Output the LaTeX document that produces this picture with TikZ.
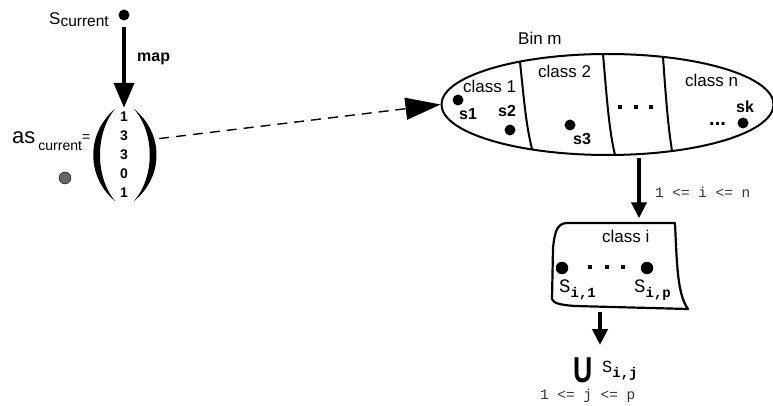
\documentclass[tikz,border=0pt]{standalone}
\usepackage{fontspec}
\setmainfont{Liberation Sans}
\setmonofont{Liberation Mono}
\usetikzlibrary{arrows.meta,shapes.geometric,positioning}

\begin{document}
\begin{tikzpicture}
[
x=1pt, y=-1pt,
dot/.style={circle, fill=black, inner sep=0pt, minimum size=11pt},
graydot/.style={circle, draw=black, fill=black!60, inner sep=0pt, minimum size=12pt},
lbl/.style={inner sep=0pt, anchor=base west, font=\fontsize{17}{20}\selectfont},
sname/.style={inner sep=0pt, anchor=base west, font=\fontsize{16}{19}\selectfont\bfseries},
bound/.style={inner sep=0pt, anchor=base west, text=black!80, font=\fontsize{14.4}{17}\selectfont\ttfamily},
elem/.style={inner sep=0pt, anchor=base west, font=\fontsize{19}{21}\selectfont\ttfamily},
square/.style={rectangle, fill=black, inner sep=0pt, minimum size=4pt},
bin/.style={ellipse, draw=black, line width=2pt, minimum width=332pt, minimum height=101pt, inner sep=0pt},
bigarrow/.style={line width=4pt, -{Triangle[length=25pt,width=20pt]}},
arrow/.style={line width=4pt, -{Triangle[length=16pt,width=15pt]}},
dasharrow/.style={line width=1.4pt, dash pattern=on 10pt off 7pt, -{Triangle[length=35pt,width=22pt]}}
]
\useasboundingbox (0,0) rectangle (773,406);

%Nodes
\node[dot]          (scur)      at (124,15)     {};
\node[lbl]          (scurlbl)   at (49,25)      {S\raisebox{-2pt}{\fontsize{15.5}{18}\selectfont current}};
\node[inner sep=0pt, minimum width=70pt, minimum height=94pt, align=center,
      font=\fontsize{14}{19}\selectfont\bfseries]
                    (vec)       at (124,155)    {1\\3\\3\\0\\1};
\node[lbl, font=\fontsize{22}{24}\selectfont]
                    (aslbl)     at (12,144)     {as\kern3pt\raisebox{-7pt}{\fontsize{14}{16}\selectfont current}\raisebox{2pt}{\fontsize{14}{16}\selectfont =}};
\node[graydot]      (gdot)      at (65,178)     {};
\node[sname]        (map)       at (137,61.5)   {map};

% bin with its classes
\node[bin]          (bin)       at (607.5,104.5) {};
\node[lbl]          (binlbl)    at (518,45)     {Bin m};
\node[lbl]          (c1)        at (463,93)     {class 1};
\node[lbl]          (c2)        at (538,78)     {class 2};
\node[lbl]          (cn)        at (685,87)     {class n};
\node[dot]          (s1)        at (458,100)    {};
\node[dot]          (s2)        at (510,130)    {};
\node[dot]          (s3)        at (570,125)    {};
\node[dot]          (sk)        at (743,123)    {};
\node[sname]        (s1lbl)     at (459,120)    {s1};
\node[sname]        (s2lbl)     at (498,117)    {s2};
\node[sname]        (s3lbl)     at (573,145)    {s3};
\node[sname]        (sklbl)     at (736,113)    {sk};
\node[sname, font=\fontsize{20}{22}\selectfont\bfseries]
                    (skdots)    at (709,126)    {...};
\foreach \x in {620,635.5,651}
  \node[square] at (\x,107) {};

% one class taken out
\node[inner sep=0pt, minimum width=136pt, minimum height=87pt]
                    (classi)    at (620,266)    {};
\node[lbl]          (cilbl)     at (602,242)    {class i};
\node[dot, minimum size=12.5pt] (si1) at (562,268) {};
\node[dot, minimum size=12.5pt] (sip) at (647,268) {};
\foreach \x in {590,606.5,623}
  \node[square] at (\x,267) {};
\node[elem]         (si1lbl)    at (559,292)    {S\raisebox{-5pt}{\fontsize{14}{16}\selectfont\bfseries i,1}};
\node[elem]         (siplbl)    at (634,292)    {S\raisebox{-5pt}{\fontsize{14}{16}\selectfont\bfseries i,p}};
\node[bound]        (irange)    at (655,197.5)  {1 <= i <= n};

% union below
\node[inner sep=0pt, anchor=base west, font=\fontsize{36}{38}\selectfont\bfseries]
                    (union)     at (573,382)    {\scalebox{0.74}[1]{U}};
\node[elem, font=\fontsize{17}{19}\selectfont\ttfamily]
                    (unionS)    at (602,372)    {S\raisebox{-5pt}{\fontsize{14}{16}\selectfont\bfseries i,j}};
\node[bound]        (jrange)    at (540,399.5)  {1 <= j <= p};

%Lines
% big round brackets of the vector
\fill (115,109) .. controls (86,133) and (86,177) .. (115,201)
      .. controls (95,177) and (95,133) .. (115,109);
\fill (134,109) .. controls (164,133) and (164,177) .. (134,201)
      .. controls (155,177) and (155,133) .. (134,109);

% class borders inside the bin
\draw[line width=2pt] (520,62) .. controls (524,100) and (526,125) .. (532,149);
\draw[line width=2pt] (603,54) .. controls (607,100) and (609,130) .. (615,155);
\draw[line width=2pt] (663,57) .. controls (666,100) and (668,125) .. (672,151);

% curled sheet for class i
\draw[line width=2.2pt, line join=round]
  (552,299) -- (553,248) .. controls (555,229) and (558,223) .. (568,223)
  -- (675,223) .. controls (677,270) and (678,295) .. (688,309)
  -- (575,306) .. controls (560,305) and (553,303) .. (552,299) -- cycle;

\coordinate (binout) at (639,158);
\coordinate (uin)    at (600,345);
\draw[bigarrow] ([yshift=-6pt]scur.south) -- (vec.north);
\draw[dasharrow] (vec.25) -- (bin.west);
\draw[arrow] (binout) -- ([yshift=4pt]binout |- classi.north);
\draw[arrow] ([yshift=-2pt]classi.south -| uin) -- (uin);
\end{tikzpicture}
\end{document}
